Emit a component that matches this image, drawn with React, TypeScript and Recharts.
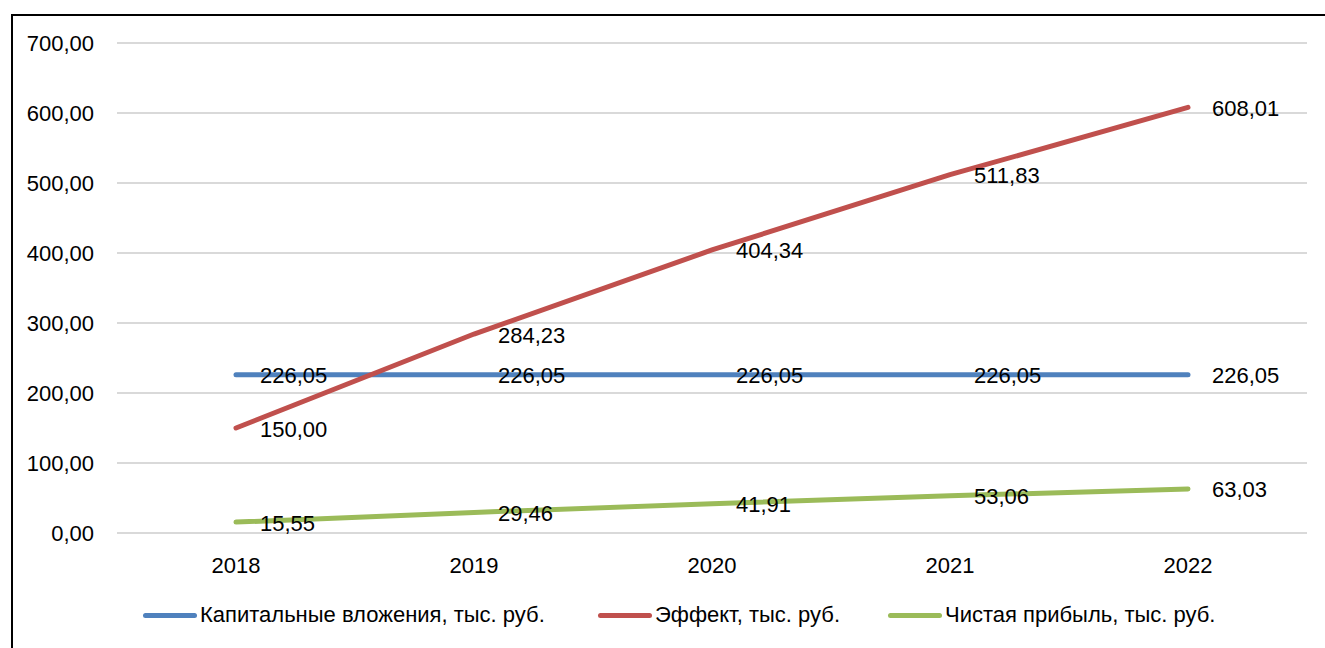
import { LineChart, Line, XAxis, YAxis, CartesianGrid, LabelList } from "recharts"

const years = ["2018", "2019", "2020", "2021", "2022"]
const kapital = [226.05, 226.05, 226.05, 226.05, 226.05]
const effekt = [150.0, 284.23, 404.34, 511.83, 608.01]
const pribyl = [15.55, 29.46, 41.91, 53.06, 63.03]
const yTicks = [0, 100, 200, 300, 400, 500, 600, 700]

const series = [
  { key: "kapital", name: "Капитальные вложения, тыс. руб.", color: "#4F81BD", legendX: 143 },
  { key: "effekt", name: "Эффект, тыс. руб.", color: "#C0504D", legendX: 598 },
  { key: "pribyl", name: "Чистая прибыль, тыс. руб.", color: "#9BBB59", legendX: 888 },
]

const data = years.map((year, i) => ({
  year,
  kapital: kapital[i],
  effekt: effekt[i],
  pribyl: pribyl[i],
}))

const FONT = "'Liberation Sans', Arial, sans-serif"
const fmt = (v: number) => v.toFixed(2).replace(".", ",")

const PointLabel = (props: any) => {
  const { x, y, value } = props
  return (
    <text x={x + 24} y={y + 1} dominantBaseline="central" textAnchor="start" fontSize={22} fontFamily={FONT} fill="#000">
      {fmt(value)}
    </text>
  )
}

export default function App() {
  return (
    <div style={{ position: "fixed", left: 0, top: 0, width: 1325, height: 648, overflow: "hidden", background: "#fff" }}>
      <div style={{ position: "absolute", left: 11, top: 14, width: 1400, height: 700, border: "2px solid #000" }} />
      <div style={{ position: "absolute", left: 0, top: 0 }}>
        <LineChart width={1325} height={648} data={data} margin={{ top: 43, right: 18, left: 0, bottom: 75 }}>
          <CartesianGrid vertical={false} stroke="#D9D9D9" strokeWidth={2} />
          <XAxis
            dataKey="year"
            height={40}
            padding={{ left: 119, right: 119 }}
            tickSize={0}
            tickMargin={24}
            axisLine={{ stroke: "#D9D9D9", strokeWidth: 2 }}
            tick={{ fontSize: 22, fontFamily: FONT, fill: "#000" }}
          />
          <YAxis
            width={117}
            domain={[0, 700]}
            ticks={yTicks}
            tickSize={0}
            tickMargin={23}
            axisLine={false}
            tickFormatter={fmt}
            tick={{ fontSize: 22, fontFamily: FONT, fill: "#000" }}
          />
          {series.map((s) => (
            <Line
              key={s.key}
              dataKey={s.key}
              name={s.name}
              stroke={s.color}
              strokeWidth={5}
              dot={false}
              isAnimationActive={false}
              strokeLinecap="round"
            >
              <LabelList dataKey={s.key} content={PointLabel} />
            </Line>
          ))}
        </LineChart>
      </div>
      {series.map((s) => (
        <div
          key={s.key}
          style={{ position: "absolute", left: s.legendX, top: 602, height: 26, display: "flex", alignItems: "center", fontFamily: FONT, fontSize: 22, color: "#000", whiteSpace: "nowrap" }}
        >
          <div style={{ width: 54, height: 5, borderRadius: 3, background: s.color, marginRight: 3 }} />
          {s.name}
        </div>
      ))}
    </div>
  )
}
